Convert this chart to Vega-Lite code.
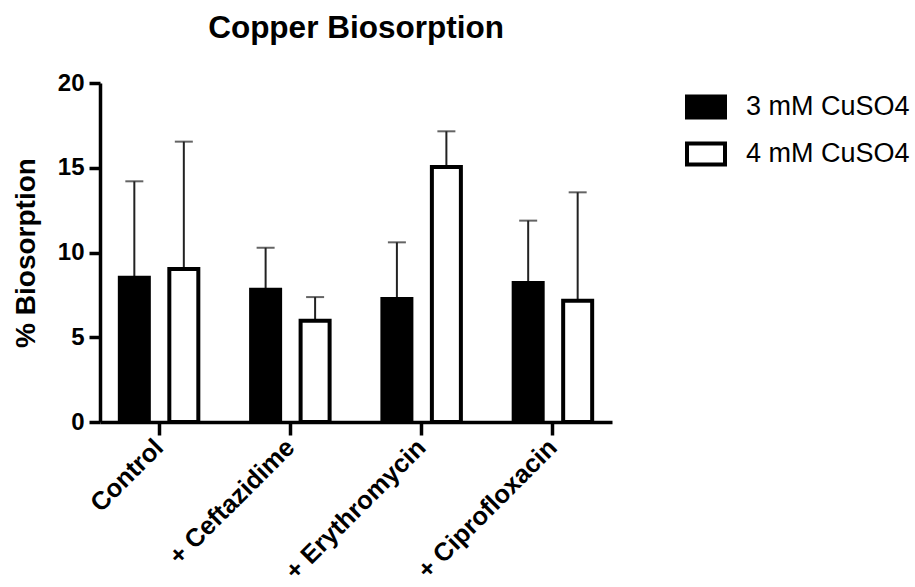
{
  "$schema": "https://vega.github.io/schema/vega-lite/v6.json",
  "autosize": "none",
  "width": 512,
  "height": 339,
  "padding": {"left": 100, "top": 83, "right": 303, "bottom": 165},
  "background": "white",
  "title": {
    "text": "Copper Biosorption",
    "font": "Liberation Sans",
    "fontSize": 31.5,
    "fontWeight": "bold",
    "color": "black",
    "anchor": "middle",
    "offset": 27
  },
  "data": {
    "values": [
      {"treatment": "Control", "conc": "3 mM CuSO4", "mean": 8.51, "upper": 14.2},
      {"treatment": "Control", "conc": "4 mM CuSO4", "mean": 9.02, "upper": 16.54},
      {"treatment": "+ Ceftazidime", "conc": "3 mM CuSO4", "mean": 7.8, "upper": 10.28},
      {"treatment": "+ Ceftazidime", "conc": "4 mM CuSO4", "mean": 5.98, "upper": 7.37},
      {"treatment": "+ Erythromycin", "conc": "3 mM CuSO4", "mean": 7.25, "upper": 10.6},
      {"treatment": "+ Erythromycin", "conc": "4 mM CuSO4", "mean": 15.04, "upper": 17.15},
      {"treatment": "+ Ciprofloxacin", "conc": "3 mM CuSO4", "mean": 8.2, "upper": 11.88},
      {"treatment": "+ Ciprofloxacin", "conc": "4 mM CuSO4", "mean": 7.15, "upper": 13.55}
    ]
  },
  "encoding": {
    "x": {
      "field": "treatment",
      "type": "nominal",
      "sort": ["Control", "+ Ceftazidime", "+ Erythromycin", "+ Ciprofloxacin"],
      "scale": {"paddingInner": 0.2, "paddingOuter": 0.05},
      "axis": {
        "title": null,
        "labelAngle": -45,
        "labelAlign": "right",
        "labelBaseline": "middle",
        "labelPadding": 8,
        "labelFont": "Liberation Sans",
        "labelFontSize": 25.5,
        "labelFontWeight": "bold",
        "labelColor": "black",
        "labelLimit": 400,
        "domainColor": "black",
        "domainWidth": 3.5,
        "tickColor": "black",
        "tickWidth": 3.5,
        "tickSize": 13
      }
    },
    "xOffset": {
      "field": "conc",
      "type": "nominal",
      "scale": {"paddingInner": 0.414, "paddingOuter": 0.268}
    }
  },
  "layer": [
    {
      "mark": {"type": "rule", "color": "#222", "strokeWidth": 2},
      "encoding": {
        "y": {"field": "mean", "type": "quantitative"},
        "y2": {"field": "upper"}
      }
    },
    {
      "mark": {"type": "tick", "color": "#222", "thickness": 2, "size": 18, "orient": "horizontal"},
      "encoding": {
        "y": {"field": "upper", "type": "quantitative"}
      }
    },
    {
      "mark": {"type": "bar", "stroke": "black", "strokeWidth": 4},
      "encoding": {
        "y": {
          "field": "mean",
          "type": "quantitative",
          "scale": {"domain": [0, 20], "nice": false},
          "axis": {
            "title": "% Biosorption",
            "titleFont": "Liberation Sans",
            "titleFontSize": 28,
            "titleFontWeight": "bold",
            "titleColor": "black",
            "titlePadding": 17,
            "values": [0, 5, 10, 15, 20],
            "grid": false,
            "labelFont": "Liberation Sans",
            "labelFontSize": 24,
            "labelFontWeight": "bold",
            "labelColor": "black",
            "labelPadding": 5,
            "domainColor": "black",
            "domainWidth": 3.5,
            "tickColor": "black",
            "tickWidth": 3.5,
            "tickSize": 11
          }
        },
        "fill": {
          "field": "conc",
          "type": "nominal",
          "scale": {"domain": ["3 mM CuSO4", "4 mM CuSO4"], "range": ["black", "white"]},
          "legend": {
            "title": null,
            "orient": "none",
            "legendX": 585,
            "legendY": 3,
            "symbolType": "M-1,-0.553H1V0.553H-1Z",
            "symbolSize": 1444,
            "symbolStrokeColor": "black",
            "symbolStrokeWidth": 4,
            "symbolOpacity": 1,
            "labelFont": "Liberation Sans",
            "labelFontSize": 27,
            "labelColor": "black",
            "labelOffset": 19,
            "labelLimit": 400,
            "rowPadding": 7
          }
        }
      }
    }
  ],
  "config": {
    "view": {"stroke": null}
  }
}
